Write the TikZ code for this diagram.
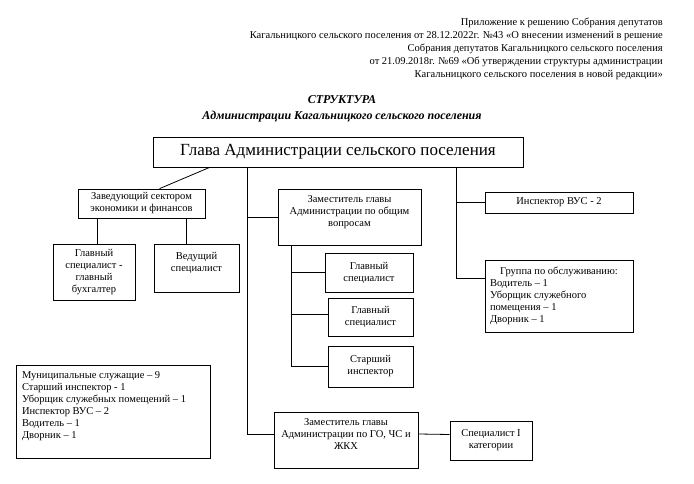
\documentclass[tikz,border=0pt]{standalone}
\usepackage{fontspec}
\setmainfont{Liberation Serif}
\usetikzlibrary{calc}

\begin{document}
\begin{tikzpicture}[x=1pt,y=-1pt]
\tikzstyle{every node}+=[inner sep=0pt]
\tikzstyle{box}=[draw, black, line width=0.8pt, align=center, font=\fontsize{10.5}{12}\selectfont]
\tikzstyle{list}=[box, align=flush left, inner xsep=5pt]
\tikzstyle{link}=[black, line width=0.8pt]
\useasboundingbox (0,0) rectangle (694,484);
\fill [white] (0,0) rectangle (694,484);
% header and title
\node (head) [anchor=north east, align=right, font=\fontsize{10.5}{13}\selectfont] at (663,18) {Приложение к решению Собрания депутатов\\Кагальницкого сельского поселения от 28.12.2022г. №43 «О внесении изменений в решение\\Собрания депутатов Кагальницкого сельского поселения\\от 21.09.2018г. №69 «Об утверждении структуры администрации\\Кагальницкого сельского поселения в новой редакции»};
\node (title) [align=center, font=\fontsize{12}{16}\bfseries\itshape] at (342,109) {СТРУКТУРА\\Администрации Кагальницкого сельского поселения};
% boxes
\node (glava) [box, minimum width=370, minimum height=30, font=\fontsize{17}{20}\selectfont] at (338,152) {Глава Администрации сельского поселения};
\node (zav) [box, minimum width=127, minimum height=29] at (141.5,203.5) {Заведующий сектором\\экономики и финансов};
\node (glbuh) [box, minimum width=82, minimum height=56] at (94,272) {Главный\\специалист -\\главный\\бухгалтер};
\node (ved) [box, minimum width=85, minimum height=48] at (196.5,268) {Ведущий\\специалист\\~};
\node (zamob) [box, minimum width=143, minimum height=56] at (349.5,217) {Заместитель главы\\Администрации по общим\\вопросам\\~};
\node (spec1) [box, minimum width=88, minimum height=39] at (369,272.5) {Главный\\специалист};
\node (spec2) [box, minimum width=85, minimum height=38] at (370.5,317) {Главный\\специалист};
\node (stinsp) [box, minimum width=85, minimum height=41] at (370.5,366.5) {Старший\\инспектор};
\node (zamgo) [box, minimum width=144, minimum height=56] at (346,440) {Заместитель главы\\Администрации по ГО, ЧС и\\ЖКХ\\~};
\node (speccat) [box, minimum width=82, minimum height=39] at (491,440.5) {Специалист I\\категории};
\node (vus) [box, minimum width=148, minimum height=21] at (559,202.5) {Инспектор ВУС - 2};
\node (group) [list, text width=138, minimum height=72] at (559,296) {\makebox[\linewidth]{Группа по обслуживанию:}\\Водитель – 1\\Уборщик служебного\\помещения – 1\\Дворник – 1};
\node (total) [list, inner xsep=6pt, text width=182, minimum height=93] at (113,411.5) {Муниципальные служащие – 9\\Старший инспектор - 1\\Уборщик служебных помещений – 1\\Инспектор ВУС – 2\\Водитель – 1\\Дворник – 1\\~};
% connectors
\coordinate (left) at ($(glava.south west)+(95,0)$);
\coordinate (right) at ($(glava.south west)+(304,0)$);
\draw [link] ($(glava.south west)+(57,0)$) -- ($(zav.north west)+(82,0)$);
\draw [link] (left) |- ($(zamgo.west)+(0,-6)$);
\draw [link] (zamob.west) -- (zamob.west -| left);
\draw [link] (right) |- ($(group.north west)+(0,19)$);
\draw [link] (vus.west) -- (vus.west -| right);
\draw [link] ($(zav.south west)+(20,0)$) -- (glbuh.north -| {$(zav.south west)+(20,0)$});
\draw [link] ($(zav.south west)+(109,0)$) -- (ved.north -| {$(zav.south west)+(109,0)$});
\coordinate (sub) at ($(zamob.south west)+(14,0)$);
\draw [link] (sub) |- (stinsp.west);
\draw [link] (spec1.west) -- (spec1.west -| sub);
\draw [link] ($(spec2.west)+(0,-3)$) -- ($(spec2.west -| sub)+(0,-3)$);
\draw [link] ($(zamgo.east)+(0,-6)$) -- ($(speccat.west)+(0,-6)$);
\end{tikzpicture}
\end{document}
